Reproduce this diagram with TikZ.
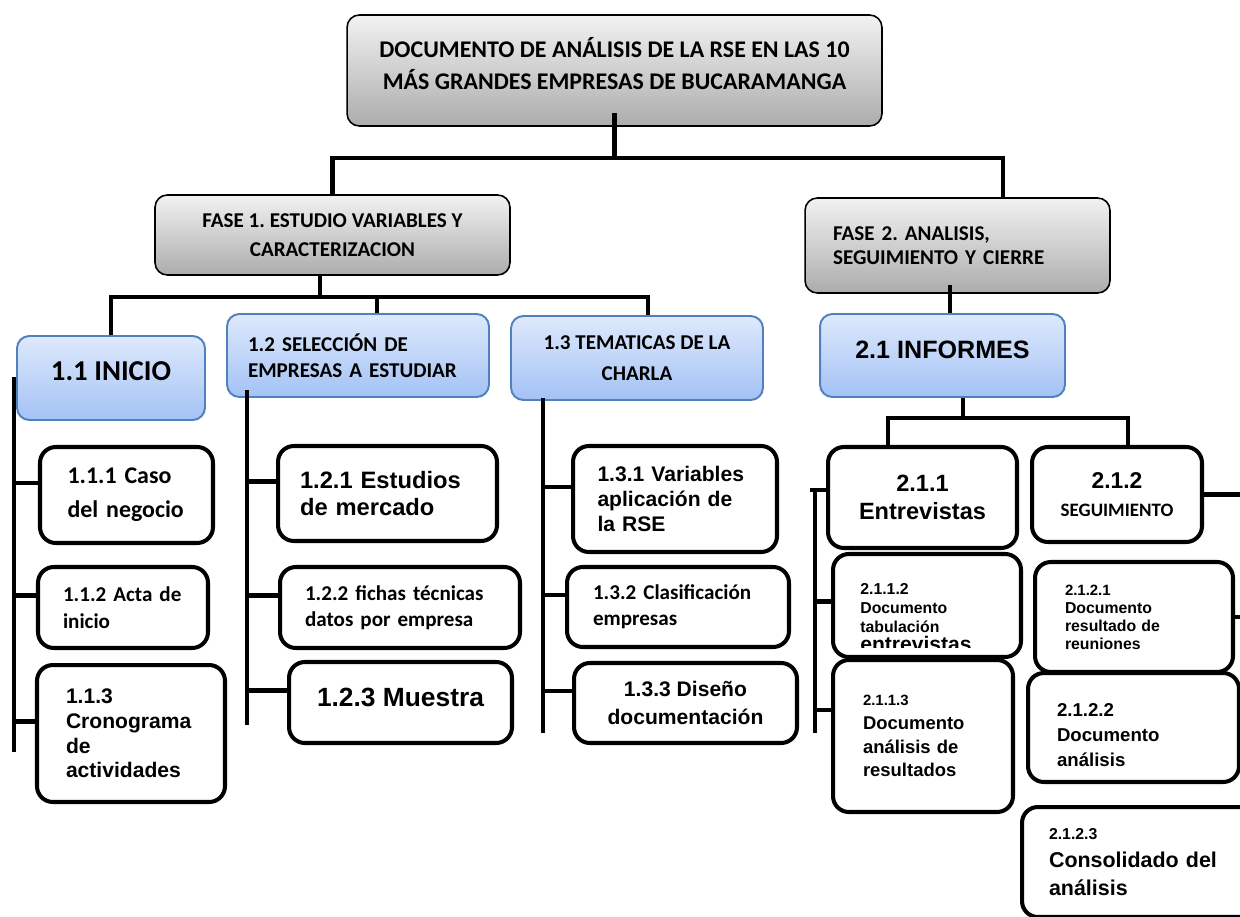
\documentclass[tikz,border=0pt]{standalone}
\usepackage{fontspec}
\setmainfont{Carlito}
\newfontfamily\arialf{Liberation Sans}
\definecolor{gris1}{HTML}{F2F2F2}
\definecolor{gris2}{HTML}{ACACAC}
\definecolor{azul1}{HTML}{DEE9FC}
\definecolor{azul2}{HTML}{A3C2F5}
\definecolor{azulb}{HTML}{4F81BD}
\newcommand{\tam}[2]{\fontsize{#1}{#2}\selectfont}
\frenchspacing
\begin{document}
\begin{tikzpicture}[x=0.02cm, y=-0.02cm, font=\bfseries]
    \tikzset{greybox/.style={draw=black, line width=0.9pt, rounded corners=7pt, top color=gris1, bottom color=gris2, inner sep=0pt},
             bluebox/.style={draw=azulb, line width=1.1pt, rounded corners=7pt, top color=azul1, bottom color=azul2, inner sep=0pt},
             whitebox/.style={draw=black, line width=2.3pt, rounded corners=9pt, fill=white, inner sep=0pt},
             conn/.style={line width=2.8pt}}
    \useasboundingbox (0,0) rectangle (1240,916);
    \clip (0,0) rectangle (1240,916);
    % nivel 0 y fases
    \node[greybox, minimum width=10.7cm, minimum height=2.22cm, align=center, text depth=8pt, font=\tam{13.6}{18.5}\bfseries] (root) at (614.5,70.5) {DOCUMENTO DE ANÁLISIS DE LA RSE EN LAS 10\\MÁS GRANDES EMPRESAS DE BUCARAMANGA};
    \node[greybox, minimum width=7.1cm, minimum height=1.6cm, align=center, font=\tam{12}{16.5}\bfseries] (fase1) at (332.5,235) {FASE 1. ESTUDIO VARIABLES Y\\CARACTERIZACION};
    \node[greybox, minimum width=6.1cm, minimum height=1.9cm, text width=4.98cm, align=left, font=\tam{12}{14}\bfseries] (fase2) at (957.5,245.5) {FASE 2. ANALISIS,\\SEGUIMIENTO Y CIERRE};
    % paquetes de trabajo
    \node[bluebox, minimum width=3.76cm, minimum height=1.68cm, text depth=8pt, font=\tam{16.4}{18}\bfseries] (c11) at (111,378) {1.1 INICIO};
    \node[bluebox, minimum width=5.24cm, minimum height=1.66cm, text width=4.4cm, align=left, font=\tam{12}{15}\bfseries] (c12) at (358,355.5) {1.2 SELECCIÓN DE\\EMPRESAS A ESTUDIAR};
    \node[bluebox, minimum width=5.04cm, minimum height=1.68cm, align=center, font=\tam{12}{18}\bfseries] (c13) at (637,358) {1.3 TEMATICAS DE LA\\CHARLA};
    \node[bluebox, minimum width=4.9cm, minimum height=1.66cm, text depth=7pt, font=\tam{14.3}{16}\arialf\bfseries] (c21) at (942.5,355.5) {2.1 INFORMES};
    % columna 1.1
    \node[whitebox, minimum width=3.46cm, minimum height=1.92cm, text width=2.36cm, align=left, font=\tam{13.6}{19.5}\bfseries] (c111) at (126.5,495) {1.1.1 Caso\\del negocio};
    \node[whitebox, minimum width=3.4cm, minimum height=1.62cm, text width=2.4cm, align=left, font=\tam{12}{15}\bfseries] (c112) at (123,607.5) {1.1.2 Acta de\\inicio};
    \node[whitebox, minimum width=3.76cm, minimum height=2.74cm, text width=2.6cm, align=left, font=\tam{12}{14}\arialf\bfseries] (c113) at (131,733.5) {1.1.3\\Cronograma\\de\\actividades};
    % columna 1.2
    \node[whitebox, minimum width=4.38cm, minimum height=1.9cm, text width=3.5cm, align=left, font=\tam{13.5}{15.5}\arialf\bfseries] (c121) at (387.5,493.5) {1.2.1 Estudios\\de mercado};
    \node[whitebox, minimum width=4.8cm, minimum height=1.62cm, text width=3.8cm, align=left, font=\tam{12}{15}\bfseries] (c122) at (400,607.5) {1.2.2 fichas técnicas\\datos por empresa};
    \node[whitebox, minimum width=4.46cm, minimum height=1.62cm, text depth=6pt, font=\tam{15}{17}\arialf\bfseries] (c123) at (400.5,702.5) {1.2.3 Muestra};
    % columna 1.3
    \node[whitebox, minimum width=4.08cm, minimum height=2.12cm, text width=3.1cm, align=left, font=\tam{12}{14}\arialf\bfseries] (c131) at (675,499) {1.3.1 Variables\\aplicación de\\la RSE};
    \node[whitebox, minimum width=4.44cm, minimum height=1.6cm, text width=3.4cm, align=left, font=\tam{12}{15}\bfseries] (c132) at (678,607) {1.3.2 Clasificación\\empresas};
    \node[whitebox, minimum width=4.46cm, minimum height=1.6cm, align=center, font=\tam{12}{15.5}\arialf\bfseries] (c133) at (685.5,703) {1.3.3 Diseño\\documentación};
    % columna 2.1
    \node[whitebox, minimum width=3.78cm, minimum height=2.02cm, align=center, font=\tam{13.4}{16}\arialf\bfseries] (c211) at (922.5,497.5) {2.1.1\\Entrevistas};
    \node[whitebox, minimum width=3.4cm, minimum height=1.9cm, align=center, font=\tam{13}{16}\arialf\bfseries] (c212) at (1117,494.5) {2.1.2\\{\rmfamily\tam{10.8}{16}SEGUIMIENTO}};
    \node[whitebox, minimum width=3.76cm, minimum height=2.06cm] (c2112) at (927,605.5) {};
    \begin{scope}
        \clip (c2112.north west) rectangle ([yshift=0.24cm]c2112.south east);
        \node[anchor=north west, inner sep=0pt, align=left, font=\tam{9}{10.8}\arialf\bfseries] (t2112) at ([xshift=0.58cm,yshift=-0.62cm]c2112.north west) {2.1.1.2\\Documento\\tabulación\\{\tam{12}{11.5}entrevistas}};
    \end{scope}
    \node[whitebox, minimum width=3.6cm, minimum height=3.04cm, text width=2.4cm, align=left, font=\tam{10.5}{13.6}\arialf\bfseries] (c2113) at (923,736) {{\tam{8.5}{13.6}2.1.1.3}\\Documento\\análisis de\\resultados};
    \node[whitebox, minimum width=3.96cm, minimum height=2.2cm, text width=2.76cm, align=left, font=\tam{9}{10.3}\arialf\bfseries] (c2121) at (1134,617) {{\tam{8.5}{10.3}2.1.2.1}\\Documento\\resultado de\\reuniones};
    \node[whitebox, minimum width=4.22cm, minimum height=2.18cm, text width=3.06cm, align=left, text height=16pt, font=\tam{10.6}{14}\arialf\bfseries] (c2122) at (1133.5,727.5) {2.1.2.2\\Documento\\análisis};
    \node[whitebox, minimum width=4.8cm, minimum height=2.2cm, text width=3.72cm, align=left, font=\tam{12.2}{16}\arialf\bfseries] (c2123) at (1142,862) {{\tam{9}{16}2.1.2.3}\\Consolidado del\\análisis};
    % conectores
    \coordinate (b0r) at (1003,158);
    \draw[conn] ([yshift=0.28cm]root.south) -- (root.south |- b0r);
    \draw[conn] (fase1.north) |- (b0r) -- (b0r |- fase2.north);
    \coordinate (b1) at (320,297);
    \coordinate (b1m) at (377,297);
    \coordinate (b1r) at (648,297);
    \draw[conn] (b1 |- fase1.south) -- (b1);
    \draw[conn] (c11.north) |- (b1r) -- (b1r |- c13.north);
    \draw[conn] (b1m) -- (b1m |- c12.north);
    \coordinate (b2) at (950,285);
    \draw[conn] (b2) -- (b2 |- c21.north);
    \coordinate (b3) at (963,418);
    \coordinate (b3l) at (888,418);
    \coordinate (b3r) at (1128,418);
    \draw[conn] (b3 |- c21.south) -- (b3);
    \draw[conn] (b3l |- c211.north) -- (b3l) -- (b3r) -- (b3r |- c212.north);
    % columnas
    \coordinate (s1) at (14,377);
    \coordinate (s2) at (247,390);
    \coordinate (s3) at (543,398);
    \coordinate (s4) at (815,488);
    \draw[conn] (s1) -- (14,752);
    \draw[conn] (s2) -- (247,725);
    \draw[conn] (s3) -- (543,733);
    \draw[conn] (s4) -- (815,733);
    \foreach \n/\s in {c111/s1, c112/s1, c113/s1, c121/s2, c122/s2, c123/s2, c131/s3, c132/s3, c133/s3}
        \draw[conn] ([yshift=0.24cm]\n.west) -- ([yshift=0.24cm]\n.west -| \s);
    \draw[conn] ([yshift=0.15cm]c211.west) -- ([yshift=0.15cm,xshift=-0.1cm]c211.west -| s4);
    \draw[conn] ([yshift=0.08cm]c2112.west) -- ([yshift=0.08cm]c2112.west -| s4);
    \draw[conn] ([yshift=0.52cm]c2113.west) -- ([yshift=0.52cm]c2113.west -| s4);
    \coordinate (s5) at (1250,483);
    \draw[conn] (c212.east) -- (c212.east -| s5);
    \draw[conn] (c2121.east) -- (c2121.east -| s5);
\end{tikzpicture}
\end{document}
